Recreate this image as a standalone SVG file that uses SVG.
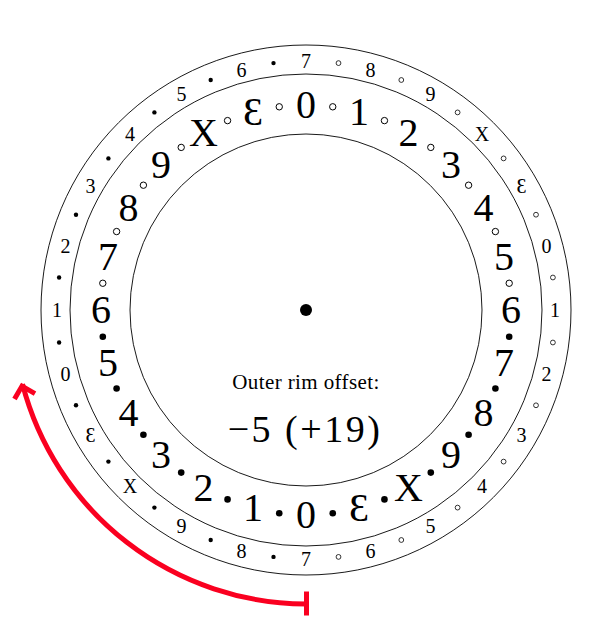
<svg xmlns="http://www.w3.org/2000/svg" width="614" height="621" viewBox="0 0 614 621" font-family="'Liberation Serif', 'Times New Roman', 'DejaVu Serif', serif">
<style>
text{fill:#000;text-anchor:middle}
.in{font-size:40px}
.out{font-size:20px}
.ring{fill:none;stroke:#000;stroke-width:0.9}
.io{fill:#fff;stroke:#000;stroke-width:1}
.if{fill:#000}
.oo{fill:#fff;stroke:#000;stroke-width:0.8}
.of{fill:#000}
.red{fill:none;stroke:#fa0020;stroke-width:5}
</style>
<rect width="614" height="621" fill="#fff"/>
<g id="rings">
<circle class="ring" cx="306" cy="310" r="265"/>
<circle class="ring" cx="306" cy="310" r="236"/>
<circle class="ring" cx="306" cy="310" r="176"/>
<circle cx="306" cy="310" r="6" fill="#000"/>
</g>
<g id="inner-labels" class="in" font-family="'Liberation Serif', serif">
<text x="306" y="118">0</text>
<text x="359.1" y="125">1</text>
<text x="408.5" y="145.5">2</text>
<text x="451" y="178">3</text>
<text x="483.5" y="220.5">4</text>
<text x="504" y="269.9">5</text>
<text x="511" y="323">6</text>
<text x="504" y="376.1">7</text>
<text x="483.5" y="425.5">8</text>
<text x="451" y="468">9</text>
<text x="408.5" y="500.5">X</text>
<text x="359.1" y="521">Ɛ</text>
<text x="306" y="528">0</text>
<text x="252.9" y="521">1</text>
<text x="203.5" y="500.5">2</text>
<text x="161" y="468">3</text>
<text x="128.5" y="425.5">4</text>
<text x="108" y="376.1">5</text>
<text x="101" y="323">6</text>
<text x="108" y="269.9">7</text>
<text x="128.5" y="220.5">8</text>
<text x="161" y="178">9</text>
<text x="203.5" y="145.5">X</text>
<text x="252.9" y="125">Ɛ</text>
</g>
<g id="inner-dots">
<circle class="io" cx="332.75" cy="106.8" r="3.2"/>
<circle class="io" cx="384.45" cy="120.6" r="3.2"/>
<circle class="io" cx="430.8" cy="147.4" r="3.2"/>
<circle class="io" cx="468.6" cy="185.2" r="3.2"/>
<circle class="io" cx="495.4" cy="231.55" r="3.2"/>
<circle class="io" cx="509.2" cy="283.25" r="3.2"/>
<circle class="if" cx="509.2" cy="336.75" r="3.3"/>
<circle class="if" cx="495.4" cy="388.45" r="3.3"/>
<circle class="if" cx="468.6" cy="434.8" r="3.3"/>
<circle class="if" cx="430.8" cy="472.6" r="3.3"/>
<circle class="if" cx="384.45" cy="499.4" r="3.3"/>
<circle class="if" cx="332.75" cy="513.2" r="3.3"/>
<circle class="if" cx="279.25" cy="513.2" r="3.3"/>
<circle class="if" cx="227.55" cy="499.4" r="3.3"/>
<circle class="if" cx="181.2" cy="472.6" r="3.3"/>
<circle class="if" cx="143.4" cy="434.8" r="3.3"/>
<circle class="if" cx="116.6" cy="388.45" r="3.3"/>
<circle class="if" cx="102.8" cy="336.75" r="3.3"/>
<circle class="io" cx="102.8" cy="283.25" r="3.2"/>
<circle class="io" cx="116.6" cy="231.55" r="3.2"/>
<circle class="io" cx="143.4" cy="185.2" r="3.2"/>
<circle class="io" cx="181.2" cy="147.4" r="3.2"/>
<circle class="io" cx="227.55" cy="120.6" r="3.2"/>
<circle class="io" cx="279.25" cy="106.8" r="3.2"/>
</g>
<g id="outer-labels" class="out" font-family="'Liberation Serif', serif">
<text x="306" y="68">7</text>
<text x="370.45" y="76.5">8</text>
<text x="430.5" y="101.4">9</text>
<text x="482.1" y="140.9">X</text>
<text x="521.6" y="192.5">Ɛ</text>
<text x="546.5" y="252.55">0</text>
<text x="555" y="317">1</text>
<text x="546.5" y="381.45">2</text>
<text x="521.6" y="441.5">3</text>
<text x="482.1" y="493.1">4</text>
<text x="430.5" y="532.6">5</text>
<text x="370.45" y="557.5">6</text>
<text x="306" y="566">7</text>
<text x="241.55" y="557.5">8</text>
<text x="181.5" y="532.6">9</text>
<text x="129.9" y="493.1">X</text>
<text x="90.4" y="441.5">Ɛ</text>
<text x="65.5" y="381.45">0</text>
<text x="57" y="317">1</text>
<text x="65.5" y="252.55">2</text>
<text x="90.4" y="192.5">3</text>
<text x="129.9" y="140.9">4</text>
<text x="181.5" y="101.4">5</text>
<text x="241.55" y="76.5">6</text>
</g>
<g id="outer-dots">
<circle class="oo" cx="338.5" cy="63.1" r="2.4"/>
<circle class="oo" cx="401.3" cy="80" r="2.4"/>
<circle class="oo" cx="457.6" cy="112.4" r="2.4"/>
<circle class="oo" cx="503.6" cy="158.4" r="2.4"/>
<circle class="oo" cx="536" cy="214.7" r="2.4"/>
<circle class="oo" cx="552.9" cy="277.5" r="2.4"/>
<circle class="oo" cx="552.9" cy="342.5" r="2.4"/>
<circle class="oo" cx="536" cy="405.3" r="2.4"/>
<circle class="oo" cx="503.6" cy="461.6" r="2.4"/>
<circle class="oo" cx="457.6" cy="507.6" r="2.4"/>
<circle class="oo" cx="401.3" cy="540" r="2.4"/>
<circle class="oo" cx="338.5" cy="556.9" r="2.4"/>
<circle class="of" cx="273.5" cy="556.9" r="2.2"/>
<circle class="of" cx="210.7" cy="540" r="2.2"/>
<circle class="of" cx="154.4" cy="507.6" r="2.2"/>
<circle class="of" cx="108.4" cy="461.6" r="2.2"/>
<circle class="of" cx="76" cy="405.3" r="2.2"/>
<circle class="of" cx="59.1" cy="342.5" r="2.2"/>
<circle class="of" cx="59.1" cy="277.5" r="2.2"/>
<circle class="of" cx="76" cy="214.7" r="2.2"/>
<circle class="of" cx="108.4" cy="158.4" r="2.2"/>
<circle class="of" cx="154.4" cy="112.4" r="2.2"/>
<circle class="of" cx="210.7" cy="80" r="2.2"/>
<circle class="of" cx="273.5" cy="63.1" r="2.2"/>
</g>
<g id="offset-label" font-family="'Liberation Serif', serif">
<text x="306" y="389" font-size="21" letter-spacing="0.4">Outer rim offset:</text>
<text x="305" y="442" font-size="38" letter-spacing="2.5">−5 (+19)</text>
</g>
<g id="connectors">
<path class="red" d="M 306 604 A 294 294 0 0 1 22.5 384.2"/>
<path class="red" d="M 35 393.6 L 22 386.1 L 14.5 399.1" stroke-linejoin="miter"/>
<line class="red" x1="306.5" y1="591.5" x2="306.5" y2="615.5"/>
</g>
</svg>
